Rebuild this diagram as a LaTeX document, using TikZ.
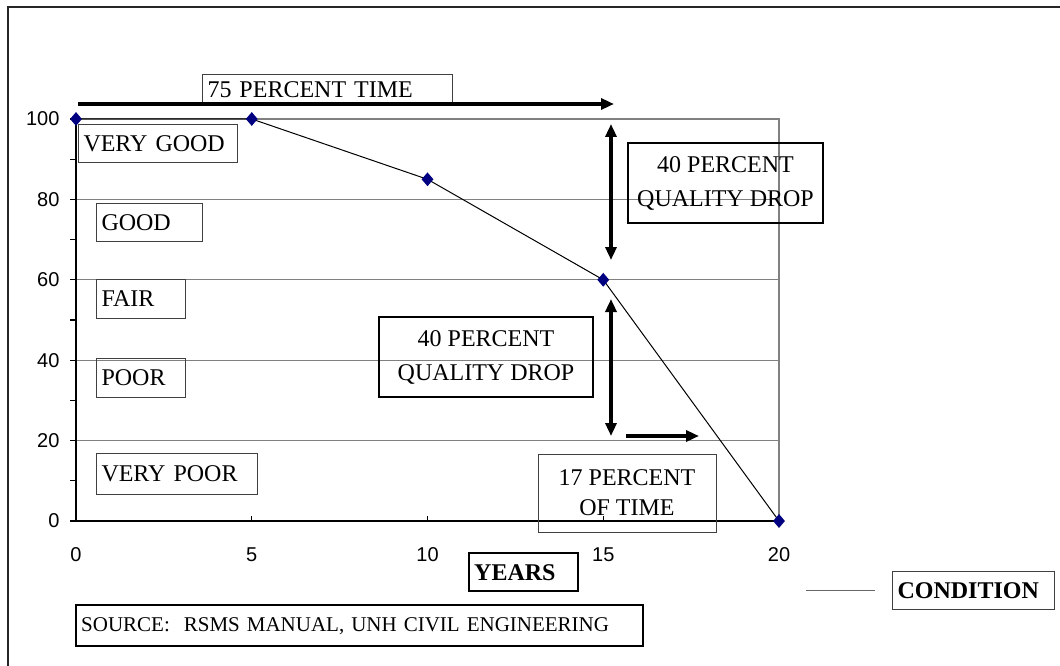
\documentclass[tikz,border=0pt]{standalone}
\usepackage{fontspec}
\setmainfont{Liberation Serif}
\newfontfamily\axisfont{Liberation Sans}
\usetikzlibrary{shapes.geometric,arrows.meta}

\definecolor{navy}{RGB}{0,0,128}
\tikzstyle{band}=[draw=black!75,line width=1pt,anchor=north west,inner xsep=5pt,inner ysep=0pt,align=left,font=\fontsize{24}{26}\selectfont]
\tikzstyle{tag}=[band,draw=black,line width=2.4pt]
\tikzstyle{note}=[draw=black,line width=2.4pt,align=center,inner sep=0pt,font=\fontsize{24}{34}\selectfont]
\tikzstyle{thin note}=[note,draw=black!75,line width=1pt,font=\fontsize{24}{30}\selectfont]
\tikzstyle{grid line}=[draw=black!50,line width=1.2pt]
\tikzstyle{marker}=[diamond,fill=navy,minimum width=12pt,minimum height=14pt,inner sep=0pt]
\tikzstyle{tick label}=[font=\axisfont\fontsize{20}{22}\selectfont]
\tikzstyle{big arrow}=[line width=3.6pt,>={Triangle[length=13pt,width=11pt]}]

\begin{document}
\begin{tikzpicture}[x=1pt,y=-1pt]
	\useasboundingbox (0,0) rectangle (1060,666);
	%Outer frame
	\draw[line width=1.5pt,black!85] (8,666) -- (8,7) -- (1060,7);
	%Plot area
	\begin{scope}[shift={(76,521)},x=35.15pt,y=4.02pt]
		\draw[grid line] (0,0) rectangle (20,100);
		\foreach \y in {20,40,60,80}
			\draw[grid line] (0,\y) -- (20,\y);
		\draw[line width=1.5pt] (0,100) -- (0,0) -- (20,0);
		\foreach \y in {0,10,...,100}
			\draw[line width=1.2pt] (-0.17,\y) -- (0,\y);
		\foreach \x in {5,10,15}
			\draw[line width=1pt] (\x,0) -- (\x,1.25);
		\foreach \y in {0,20,...,100}
			\node[tick label,anchor=east,xshift=-13pt] (ly\y) at (0,\y) {\y};
		\foreach \x in {0,5,...,20}
			\node[tick label,yshift=-34pt] (lx\x) at (\x,0) {\x};
		%Data
		\coordinate (d0) at (0,100);
		\coordinate (d1) at (5,100);
		\coordinate (d2) at (10,85);
		\coordinate (d3) at (15,60);
		\coordinate (d4) at (20,0);
	\end{scope}
	\draw[line width=1pt] (d0) -- (d1) -- (d2) -- (d3) -- (d4);
	\foreach \pt in {d0,d1,d2,d3,d4}
		\node[marker] (m\pt) at (\pt) {};
	%Condition bands
	\foreach \pos/\w/\h/\name/\txt in
		{{(78,124)/149pt/38pt/vgood/VERY GOOD},	{(96,203)/96pt/38pt/good/GOOD},
		{(96,279)/79pt/39pt/fair/FAIR},	{(96,358)/79pt/39pt/poor/POOR},
		{(96,453)/151pt/41pt/vpoor/VERY POOR},	{(202,74)/240pt/30pt/time/75 PERCENT TIME}}
		\node[band,text width=\w,minimum height=\h] (\name) at \pos {\txt};
	%Notes
	\node[note,minimum width=195pt,minimum height=80pt] (dropa) at (725.5,183) {40 PERCENT\\QUALITY DROP};
	\node[note,minimum width=214pt,minimum height=80pt] (dropb) at (486,357) {40 PERCENT\\QUALITY DROP};
	\node[thin note,minimum width=178pt,minimum height=78pt] (share) at (627,493) {17 PERCENT\\OF TIME};
	\node[tag,text width=99pt,minimum height=38pt,font=\fontsize{24}{26}\selectfont\bfseries] (years) at (468,552) {YEARS};
	\node[tag,text width=557pt,minimum height=41pt,font=\fontsize{21}{23}\selectfont] (source) at (75,604) {SOURCE:\ \ RSMS MANUAL, UNH CIVIL ENGINEERING};
	\node[band,text width=152pt,minimum height=38pt,font=\fontsize{24}{26}\selectfont\bfseries] (cond) at (892,571) {CONDITION};
	%Legend
	\coordinate (leg0) at (806,590);
	\coordinate (leg1) at (875,590);
	\draw[line width=1pt,black!60] (leg0) -- (leg1);
	%Arrows
	\coordinate (ta) at (78,104);	\coordinate (tb) at (614,104);
	\coordinate (ua) at (611,124);	\coordinate (ub) at (611,260);
	\coordinate (va) at (611,299);	\coordinate (vb) at (611,436);
	\coordinate (wa) at (626,436);	\coordinate (wb) at (699,436);
	\draw[big arrow,->] (ta) -- (tb);
	\draw[big arrow,<->] (ua) -- (ub);
	\draw[big arrow,<->] (va) -- (vb);
	\draw[big arrow,->] (wa) -- (wb);
\end{tikzpicture}
\end{document}
